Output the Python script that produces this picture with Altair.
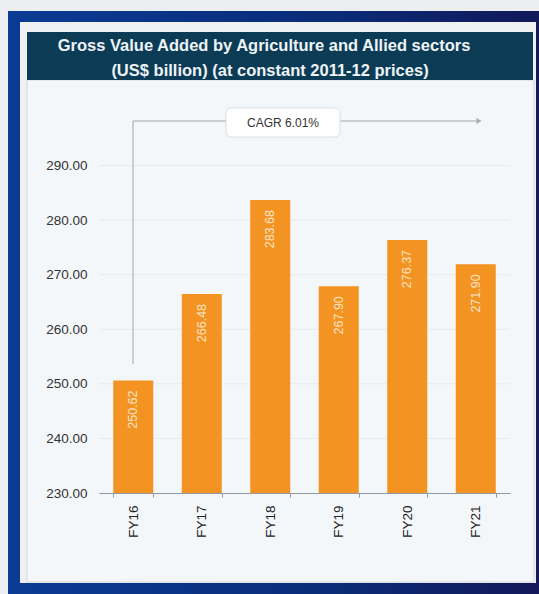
import altair as alt
import pandas as pd

years = ["FY16", "FY17", "FY18", "FY19", "FY20", "FY21"]
values = [250.62, 266.48, 283.68, 267.90, 276.37, 271.90]
labels = ["250.62", "266.48", "283.68", "267.90", "276.37", "271.90"]
y_ticks = [230, 240, 250, 260, 270, 280, 290]
title_lines = ["Gross Value Added by Agriculture and Allied sectors",
               "(US$ billion) (at constant 2011-12 prices)"]
cagr_text = "CAGR 6.01%"

df = pd.DataFrame({"year": years, "value": values, "label": labels})
grid_df = pd.DataFrame({"v": y_ticks[1:]})

PAD_L, PAD_T, W, H = 99, 111, 411, 382
TOTAL_W, TOTAL_H = 539, 594


def ax(x):
    return x - PAD_L


def ay(y):
    return y - PAD_T


one = alt.Data(values=[{"k": 0}])


def box(x1, y1, x2, y2, **kw):
    return alt.Chart(one).mark_rect(**kw).encode(
        x=alt.value(ax(x1)), x2=alt.value(ax(x2)),
        y=alt.value(ay(y1)), y2=alt.value(ay(y2)))


def line(x1, y1, x2, y2, **kw):
    return alt.Chart(one).mark_rule(**kw).encode(
        x=alt.value(ax(x1)), x2=alt.value(ax(x2)),
        y=alt.value(ay(y1)), y2=alt.value(ay(y2)))


def txt(s, x, y, **kw):
    return alt.Chart(alt.Data(values=[{"t": s}])).mark_text(**kw).encode(
        x=alt.value(ax(x)), y=alt.value(ay(y)), text="t:N")


frame_grad = alt.LinearGradient(
    gradient="linear", x1=0, y1=0, x2=1, y2=0,
    stops=[alt.GradientStop(color="#0b3b95", offset=0),
           alt.GradientStop(color="#0a2c78", offset=0.6),
           alt.GradientStop(color="#12185a", offset=1)])

outer = box(0, 0, TOTAL_W, TOTAL_H, fill="#eceef0")
frame = box(8, 11, TOTAL_W, TOTAL_H, fill=frame_grad)
panel_outer = box(20, 22, 536, 583, fill="#eef0f2")
panel = box(27, 80, 534, 582, fill="#f4f7fa", stroke="#d4d8dc", strokeWidth=1)
header = box(27, 32, 533, 80, fill="#0c3b55")
t1 = txt(title_lines[0], 264, 46, font="Liberation Sans", fontSize=16.5,
         fontWeight="bold", color="#eef3f6")
t2 = txt(title_lines[1], 270, 71, font="Liberation Sans", fontSize=16.5,
         fontWeight="bold", color="#eef3f6")

yscale = alt.Scale(domain=[230, 300], zero=False, nice=False)
yaxis = alt.Axis(values=y_ticks, format=".2f", grid=False,
                 domain=False, ticks=False, labelPadding=12,
                 labelFont="Liberation Sans", labelFontSize=13.5,
                 labelColor="#333333", zindex=1)

grid = alt.Chart(grid_df).mark_rule(color="#e6eaee", strokeWidth=1).encode(
    y=alt.Y("v:Q", scale=yscale, axis=yaxis, title=None))

arrow_h = line(133, 121, 476, 121, color="#a0a4a8", strokeWidth=1)
arrow_v = line(133, 121, 133, 364, color="#a0a4a8", strokeWidth=1)
arrow_head = alt.Chart(one).mark_point(shape="triangle-right", filled=True,
                                       color="#a8acb0", size=36, opacity=1).encode(
    x=alt.value(ax(479)), y=alt.value(ay(121)))
cagr_box = box(226, 108, 340, 137, fill="#ffffff", stroke="#dcdfe2",
               strokeWidth=1, cornerRadius=5)
cagr = txt(cagr_text, 283, 123, font="Liberation Sans", fontSize=12,
           color="#333333")

bars = alt.Chart(df).mark_bar(color="#f39321").encode(
    x=alt.X("year:N", sort=years, title=None,
            scale=alt.Scale(paddingInner=0.416, paddingOuter=0.208),
            axis=alt.Axis(labelAngle=-90, labelFont="Liberation Sans",
                          labelFontSize=13.5, labelColor="#222222",
                          labelPadding=8, domainColor="#8f9aa6",
                          tickColor="#8f9aa6", tickBand="extent",
                          tickSize=4, zindex=1)),
    y=alt.Y("value:Q", scale=yscale, title=None, axis=yaxis),
    y2=alt.datum(230),
)

vals = alt.Chart(df).mark_text(angle=270, align="right", baseline="middle",
                               dx=-10, font="Liberation Sans", fontSize=12.5,
                               color="#fbe4c6").encode(
    x=alt.X("year:N", sort=years),
    y=alt.Y("value:Q", scale=yscale),
    text="label:N")

chart = alt.layer(outer, frame, panel_outer, panel, header, t1, t2, grid,
                  arrow_h, arrow_v, arrow_head, cagr_box, cagr, bars, vals).properties(
    width=W, height=H,
    padding={"left": PAD_L, "top": PAD_T, "right": TOTAL_W - PAD_L - W,
             "bottom": TOTAL_H - PAD_T - H},
    autosize=alt.AutoSizeParams(type="none"),
    background="#eceef0",
).configure_view(stroke=None)

chart.save("out.html", embed_options={"renderer": "svg", "actions": False})
